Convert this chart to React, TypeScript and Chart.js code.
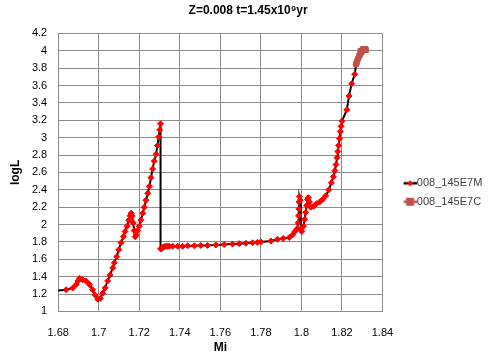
import React, { useEffect, useRef } from "react";
import { Chart, registerables } from "chart.js";

Chart.register(...registerables);

const titleText = "Z=0.008 t=1.45x10\u2079yr";
const xTitle = "Mi";
const yTitle = "logL";
const seriesNames = ["008_145E7M", "008_145E7C"];

const xTickLabels = ["1.68", "1.7", "1.72", "1.74", "1.76", "1.78", "1.8", "1.82", "1.84"];
const yTickLabels = ["1", "1.2", "1.4", "1.6", "1.8", "2", "2.2", "2.4", "2.6", "2.8", "3", "3.2", "3.4", "3.6", "3.8", "4", "4.2"];

// Series 008_145E7M
const mX = [
  1.678, 1.6839, 1.6872, 1.6889, 1.6897, 1.6905, 1.6921, 1.6938, 1.6954, 1.697, 1.6982, 1.6995,
  1.7008, 1.702, 1.7032, 1.7044, 1.7056, 1.7069, 1.7077, 1.7089, 1.7099, 1.711, 1.7122, 1.713,
  1.714, 1.7148, 1.7155, 1.716, 1.7165, 1.717, 1.7175, 1.718, 1.7185, 1.7192, 1.72, 1.7208,
  1.7217, 1.7225, 1.7233, 1.7242, 1.725, 1.7258, 1.7266, 1.7274, 1.7283, 1.729, 1.7296, 1.7301,
  1.7305, 1.7305, 1.731, 1.7318, 1.7324, 1.7332, 1.734, 1.7348, 1.7365, 1.739, 1.7414, 1.7439,
  1.7472, 1.7504, 1.7537, 1.7578, 1.7619, 1.766, 1.7693, 1.7726, 1.7759, 1.7783, 1.78, 1.785,
  1.7882, 1.791, 1.794, 1.7956, 1.7968, 1.7978, 1.7984, 1.7986, 1.7988, 1.7989, 1.799, 1.7994,
  1.7997, 1.8002, 1.801, 1.8016, 1.8021, 1.8026, 1.803, 1.8034, 1.804, 1.8046, 1.806, 1.8075,
  1.809, 1.8105, 1.812, 1.8135, 1.8148, 1.8158, 1.8165, 1.8171, 1.8176, 1.818, 1.8184, 1.8188,
  1.8192, 1.8196, 1.82, 1.8224, 1.8235, 1.8248, 1.8263, 1.827,
];
const mY = [
  1.235, 1.25, 1.27, 1.31, 1.35, 1.38, 1.365, 1.35, 1.31, 1.25, 1.19, 1.14,
  1.15, 1.21, 1.27, 1.35, 1.42, 1.5, 1.56, 1.63, 1.71, 1.79, 1.86, 1.92,
  1.98, 2.05, 2.1, 2.13, 2.1, 2.02, 1.93, 1.86, 1.88, 1.93, 1.98, 2.05,
  2.13, 2.2, 2.28, 2.36, 2.44, 2.54, 2.64, 2.73, 2.81, 2.91, 3.01, 3.09,
  3.16, 1.72, 1.72, 1.74, 1.745, 1.75, 1.75, 1.75, 1.75, 1.75, 1.75, 1.755,
  1.755, 1.76, 1.76, 1.765, 1.77, 1.775, 1.78, 1.785, 1.79, 1.795, 1.8, 1.81,
  1.83, 1.84, 1.85, 1.88, 1.92, 1.95, 2.02, 2.1, 2.18, 2.26, 2.32, 2.28,
  1.95, 1.92, 1.98, 2.06, 2.14, 2.22, 2.29, 2.31, 2.26, 2.2, 2.21, 2.24,
  2.26, 2.29, 2.33, 2.4, 2.48, 2.55, 2.62, 2.69, 2.77, 2.84, 2.91, 2.99,
  3.07, 3.13, 3.19, 3.32, 3.48, 3.62, 3.73, 3.84,
];

// Series 008_145E7C
const cX = [1.827, 1.8275, 1.828, 1.8285, 1.829, 1.8295, 1.83, 1.8305, 1.831, 1.8315, 1.8318, 1.8305, 1.8292];
const cY = [3.85, 3.88, 3.91, 3.94, 3.96, 3.98, 4.0, 4.01, 4.02, 4.02, 4.01, 4.02, 4.0];

const FONT = "'Liberation Sans', Arial, sans-serif";
const M_LINE = "#000000";
const M_MARK = "#FF0000";
const C_COLOR = "#C0504D";
const GRID = "#8C8C8C";

function makeLegendIcon(kind: "m" | "c"): HTMLCanvasElement {
  const cv = document.createElement("canvas");
  cv.width = 32;
  cv.height = 10;
  const ctx = cv.getContext("2d")!;
  ctx.lineWidth = 2.5;
  ctx.strokeStyle = kind === "m" ? M_LINE : C_COLOR;
  ctx.beginPath();
  ctx.moveTo(19, 5);
  ctx.lineTo(32, 5);
  ctx.stroke();
  if (kind === "m") {
    ctx.fillStyle = M_MARK;
    ctx.beginPath();
    ctx.moveTo(25.5, 2);
    ctx.lineTo(28.5, 5);
    ctx.lineTo(25.5, 8);
    ctx.lineTo(22.5, 5);
    ctx.closePath();
    ctx.fill();
  } else {
    ctx.fillStyle = C_COLOR;
    ctx.fillRect(21.5, 1, 8, 8);
  }
  return cv;
}

export default function App() {
  const ref = useRef<HTMLCanvasElement | null>(null);

  useEffect(() => {
    if (!ref.current) return;
    const icons = [makeLegendIcon("m"), makeLegendIcon("c")];
    const mData = mX.map((x, i) => ({ x, y: mY[i] }));
    const cData = cX.map((x, i) => ({ x, y: cY[i] }));

    const chart = new Chart(ref.current, {
      type: "line",
      data: {
        datasets: [
          {
            label: seriesNames[0],
            data: mData,
            borderColor: M_LINE,
            borderWidth: 2,
            pointStyle: "rectRot",
            pointRadius: 3,
            pointBackgroundColor: M_MARK,
            pointBorderColor: M_MARK,
            pointBorderWidth: 1,
            tension: 0,
            order: 1,
          },
          {
            label: seriesNames[1],
            data: cData,
            borderColor: C_COLOR,
            borderWidth: 2,
            pointStyle: "rect",
            pointRadius: 3.5,
            pointBackgroundColor: C_COLOR,
            pointBorderColor: C_COLOR,
            pointBorderWidth: 1,
            tension: 0,
            order: 0,
          },
        ],
      },
      options: {
        responsive: false,
        animation: false,
        parsing: false as any,
        layout: { padding: { left: 4, right: 7.7, top: 0, bottom: 6 } },
        plugins: {
          tooltip: { enabled: false },
          title: {
            display: true,
            text: titleText,
            color: "#000",
            font: { family: FONT, size: 12, weight: "bold" },
            padding: { top: 3, bottom: 16 },
          },
          legend: {
            display: true,
            position: "right",
            align: "center",
            title: {
              display: true,
              text: " ",
              font: { family: FONT, size: 10 },
              padding: { top: 8, bottom: 8 },
            },
            labels: {
              usePointStyle: true,
              pointStyleWidth: 21.5,
              boxHeight: 10,
              padding: 7.4,
              color: "#404040",
              font: { family: FONT, size: 11 },
              sort: (a: any, b: any) => a.datasetIndex - b.datasetIndex,
              generateLabels: (ch: any) => {
                const items = Chart.defaults.plugins.legend.labels.generateLabels(ch);
                return items.map((it: any) => ({ ...it, pointStyle: icons[it.datasetIndex] }));
              },
            },
          },
        },
        scales: {
          x: {
            type: "linear",
            min: 1.68,
            max: 1.84,
            ticks: {
              stepSize: 0.02,
              color: "#000",
              font: { family: FONT, size: 11 },
              padding: 15,
              maxRotation: 0,
              callback: (v: any, i: number) => xTickLabels[i] ?? String(v),
            },
            grid: { color: GRID, lineWidth: 1, drawTicks: false },
            border: { color: GRID, width: 1 },
            title: {
              display: true,
              text: xTitle,
              color: "#000",
              font: { family: FONT, size: 12, weight: "bold" },
              padding: { top: -14, bottom: 2 },
            },
          },
          y: {
            type: "linear",
            min: 1,
            max: 4.2,
            ticks: {
              stepSize: 0.2,
              color: "#000",
              font: { family: FONT, size: 11 },
              padding: 11,
              callback: (v: any, i: number) => yTickLabels[i] ?? String(v),
            },
            grid: { color: GRID, lineWidth: 1, drawTicks: false },
            border: { color: GRID, width: 1 },
            title: {
              display: true,
              text: yTitle,
              color: "#000",
              font: { family: FONT, size: 12, weight: "bold" },
              padding: { top: 4, bottom: -1.5 },
            },
          },
        },
      },
    });
    return () => chart.destroy();
  }, []);

  return (
    <div style={{ position: "fixed", left: 0, top: 0, width: 500, height: 363, background: "#fff" }}>
      <canvas ref={ref} width={500} height={363} style={{ display: "block" }} />
    </div>
  );
}
